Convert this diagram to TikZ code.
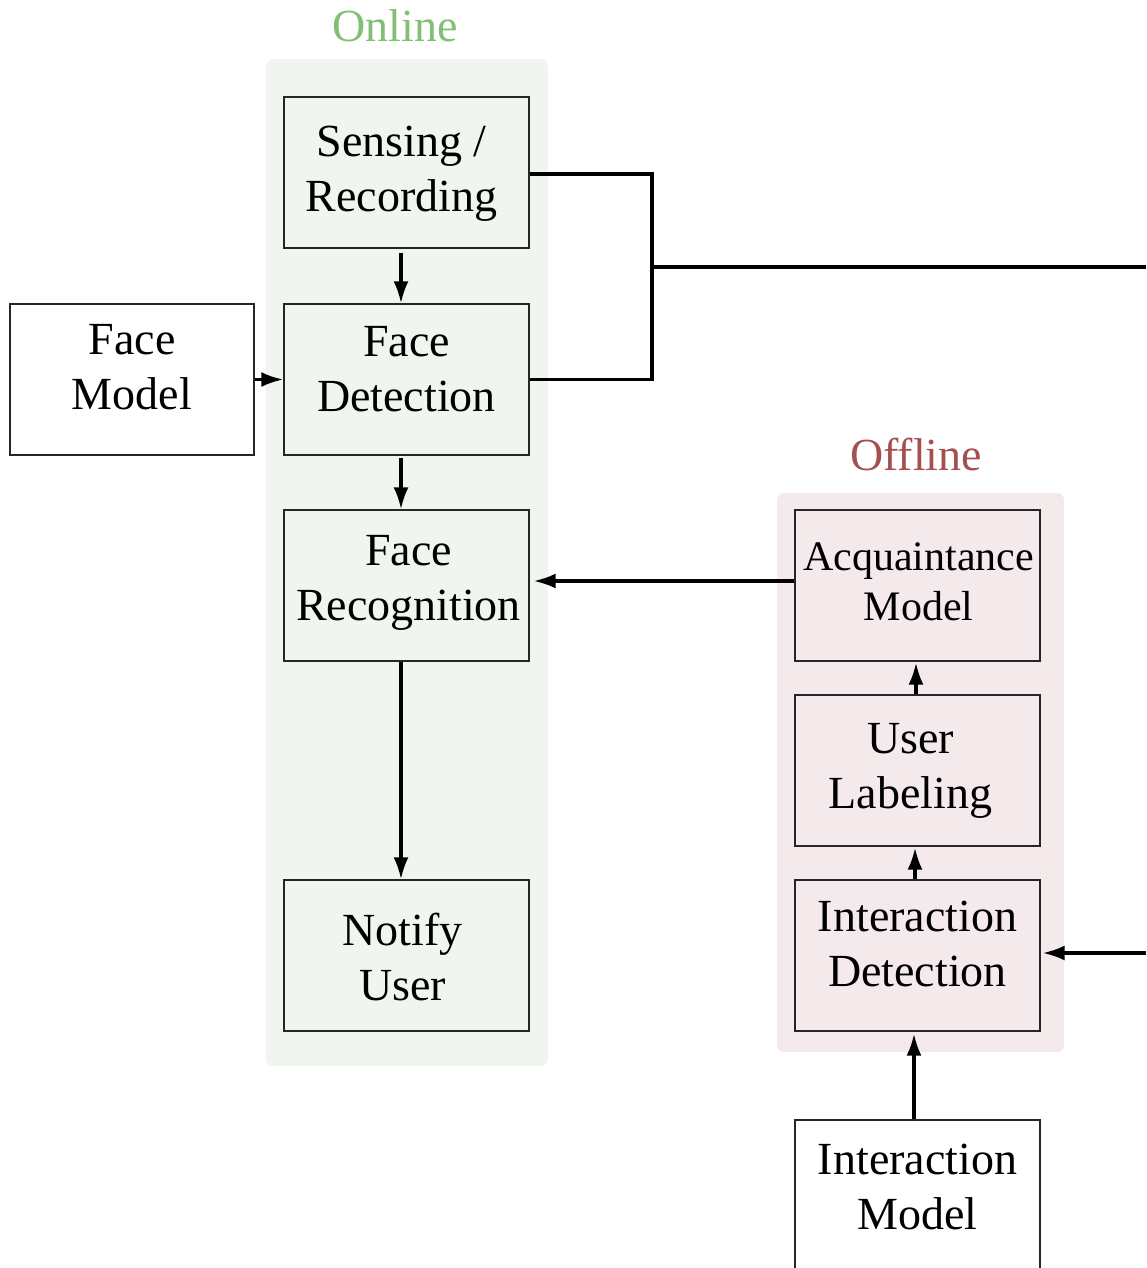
\documentclass[tikz,border=0pt]{standalone}
\usepackage{fontspec}
\setmainfont{Liberation Serif}
\usetikzlibrary{arrows.meta}
\definecolor{onlinefg}{RGB}{130,190,115}
\definecolor{onlinebg}{RGB}{241,245,240}
\definecolor{offlinefg}{RGB}{165,80,80}
\definecolor{offlinebg}{RGB}{245,234,235}
\begin{document}
\begin{tikzpicture}[x=1pt,y=-1pt,
  block/.style={draw=black!85, line width=1.3pt, minimum width=245pt,
    minimum height=151pt, inner sep=0pt},
  blocktext/.style={inner sep=0pt, align=center,
    font=\fontsize{46}{55}\selectfont},
  link/.style={line width=3.2pt, -{Latex[length=22pt,width=15pt]}},
  wire/.style={line width=3.2pt},
  groupbox/.style={rounded corners=7pt},
  grouplabel/.style={font=\fontsize{46}{55}\selectfont}]
\useasboundingbox (0,0) rectangle (1146,1268);
\clip (0,0) rectangle (1146,1268);

% group backgrounds
\fill[onlinebg, groupbox] (266,59) rectangle (548,1066);
\fill[offlinebg, groupbox] (777,493) rectangle (1064,1052);
\node[grouplabel, text=onlinefg] (onlinelbl) at (395,26) {Online};
\node[grouplabel, text=offlinefg] (offlinelbl) at (916,455) {Offline};

% online pipeline
\node[block, fill=onlinebg] (sense) at (406.5,172.5) {};
\node[block, fill=onlinebg] (facedet) at (406.5,379.5) {};
\node[block, fill=onlinebg] (facerec) at (406.5,585.5) {};
\node[block, fill=onlinebg] (notify) at (406.5,955.5) {};
\node[block, fill=white, minimum width=244pt] (facemodel) at (132,379.5) {};

\node[blocktext] (sense-t) at ([xshift=-5pt,yshift=-1pt]sense.center) {Sensing /\\Recording};
\node[blocktext] (facedet-t) at ([yshift=10pt]facedet.center) {Face\\Detection};
\node[blocktext] (facerec-t) at ([xshift=2pt,yshift=2.5pt]facerec.center) {Face\\Recognition};
\node[blocktext] (notify-t) at ([xshift=-4pt,yshift=-2pt]notify.center) {Notify\\User};
\node[blocktext] (facemodel-t) at ([yshift=12pt]facemodel.center) {Face\\Model};

% offline pipeline
\node[block, fill=offlinebg] (acq) at (917.5,585.5) {};
\node[block, fill=offlinebg] (label) at (917.5,770.5) {};
\node[block, fill=offlinebg] (intdet) at (917.5,955.5) {};
\node[block, fill=white] (intmodel) at (917.5,1195.5) {};

\node[blocktext, font=\fontsize{42}{50}\selectfont] (acq-t) at ([xshift=1pt,yshift=3.5pt]acq.center) {Acquaintance\\Model};
\node[blocktext] (label-t) at ([xshift=-7pt]label.center) {User\\Labeling};
\node[blocktext] (intdet-t) at ([yshift=11.4pt]intdet.center) {Interaction\\Detection};
\node[blocktext] (intmodel-t) at ([yshift=8.7pt]intmodel.center) {Interaction\\Model};

% connectors
\draw[link, shorten <=4pt] ([xshift=-5.5pt]sense.south) -- ([xshift=-5.5pt]facedet.north);
\draw[link, shorten <=2pt] ([xshift=-5.5pt]facedet.south) -- ([xshift=-5.5pt]facerec.north);
\draw[link] ([xshift=-5.5pt]facerec.south) -- ([xshift=-5.5pt]notify.north);
\draw[link] (facemodel.east) -- (facedet.west);

\coordinate (split) at (652,267);
\coordinate (rightA) at (1146,267);
\coordinate (rightB) at (1146,953);
\draw[wire] ([yshift=-1.5pt]sense.east) -| (split) |- (facedet.east);
\draw[wire] (split) -- (rightA);

\draw[link, shorten >=4pt] ([yshift=4.5pt]acq.west) -- ([yshift=4.5pt]facerec.east);
\draw[link, shorten >=1pt] ([xshift=-1.5pt]label.north) -- ([xshift=-1.5pt]acq.south);
\draw[link, shorten >=1pt] ([xshift=-2.5pt]intdet.north) -- ([xshift=-2.5pt]label.south);
\draw[link, shorten >=2pt] ([xshift=-3.5pt]intmodel.north) -- ([xshift=-3.5pt]intdet.south);
\draw[link, shorten >=2pt] (rightB) -- (rightB -| intdet.east);
\end{tikzpicture}
\end{document}
